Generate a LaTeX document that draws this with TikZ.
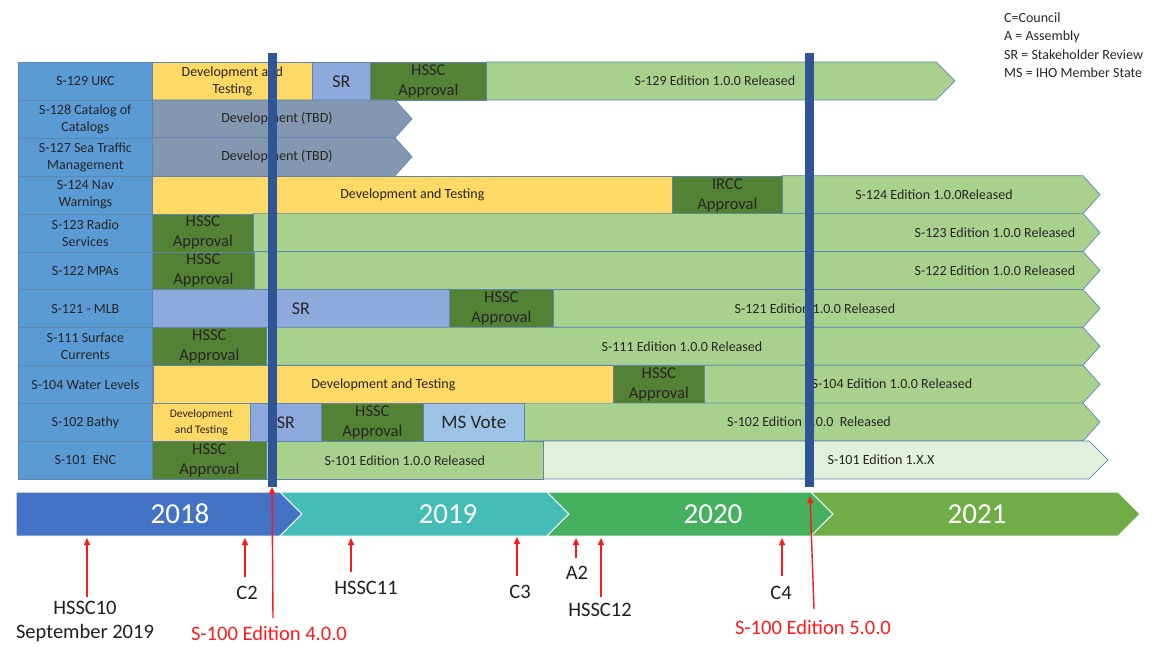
\documentclass[tikz,border=0pt]{standalone}
\usepackage{fontspec}
\setmainfont{Carlito}
\usetikzlibrary{arrows.meta}
\definecolor{lblue}{HTML}{5B9BD5}
\definecolor{devy}{HTML}{FFD966}
\definecolor{srb}{HTML}{8EA9DB}
\definecolor{dgreen}{HTML}{548235}
\definecolor{lgreen}{HTML}{A9D18E}
\definecolor{tbd}{HTML}{8497B0}
\definecolor{msv}{HTML}{9DC3E6}
\definecolor{vlgreen}{HTML}{E2EFDA}
\definecolor{cellline}{HTML}{5F84AE}
\definecolor{vline}{HTML}{2F5597}
\definecolor{yA}{HTML}{4472C4}
\definecolor{yB}{HTML}{44BDB7}
\definecolor{yC}{HTML}{45B15E}
\definecolor{yD}{HTML}{70AD47}
\definecolor{txt}{HTML}{262626}
\definecolor{redc}{HTML}{FF1A1A}
\newcommand\boxcell[6]{\node[cellbox,#5,minimum width={(#3)-(#2)},anchor=north west] (#1) at (#2,#4) {#6};}
\newcommand\chevcell[5]{\filldraw[fill=#5,draw=cellline,line width=0.7] (#1,#4) -- (#2,#4) -- (#3,#4+18.95) -- (#2,#4+37.9) -- (#1,#4+37.9) -- cycle;}
\newcommand\yearseg[4]{\filldraw[fill=#4,draw=white,line width=1] (#1,492) -- (#2,492) -- (#2+22,514) -- (#2,536) -- (#1,536) -- (#3,514) -- cycle;}
\begin{document}
\begin{tikzpicture}[x=1pt,y=-1pt,
  cellbox/.style={draw=cellline,line width=0.7,inner sep=0pt,align=center,minimum height=37.9,text=txt,font=\fontsize{14}{17}\selectfont},
  lbl/.style={fill=lblue},
  fA/.style={fill=dgreen,font=\fontsize{16.5}{20}\selectfont},
  fSR/.style={font=\fontsize{18}{20}\selectfont},
  fMS/.style={font=\fontsize{19}{20}\selectfont},
  fSm/.style={font=\fontsize{11.5}{16}\selectfont},
  bartext/.style={inner sep=0pt,text=txt,font=\fontsize{14}{17}\selectfont},
  yeartext/.style={text=white,font=\fontsize{29}{30}\selectfont},
  bottext/.style={text=black!88,align=center,font=\fontsize{20.5}{24}\selectfont},
  redtext/.style={text=redc,font=\fontsize{20.5}{24}\selectfont},
  legtext/.style={anchor=west,inner sep=0pt,text=txt,font=\fontsize{14}{18}\selectfont},
  redarr/.style={draw=redc,line width=1.4,-{Triangle[length=7pt,width=6pt]}},
  vbar/.style={draw=vline,line width=9}]
\useasboundingbox (0,0) rectangle (1154,646);
\fill[white] (0,0) rectangle (1154,646);

% legend
\node[legtext] (legC) at (1004,18) {C=Council};
\node[legtext] (legA) at (1004,37) {A = Assembly};
\node[legtext] (legSR) at (1004,55) {SR = Stakeholder Review};
\node[legtext] (legMS) at (1004,73) {MS = IHO Member State};

% row 1: S-129
\chevcell{486}{936}{955}{62}{lgreen}
\boxcell{l129}{18}{152}{62}{lbl}{S-129 UKC}
\boxcell{d129}{152}{312}{62}{fill=devy}{Development and\\Testing}
\boxcell{s129}{312}{370}{62}{fill=srb,fSR}{SR}
\boxcell{h129}{370}{486}{62}{fA}{HSSC\\Approval}
\node[bartext] (r129) at (715,81) {S-129 Edition 1.0.0 Released};

% row 2: S-128
\chevcell{152}{395}{412}{99.9}{tbd}
\boxcell{l128}{18}{152}{99.9}{lbl}{S-128 Catalog of\\Catalogs}
\node[bartext] (t128) at (277,118.85) {Development (TBD)};

% row 3: S-127
\chevcell{152}{395}{412}{137.8}{tbd}
\boxcell{l127}{18}{152}{137.8}{lbl}{S-127 Sea Traffic\\Management}
\node[bartext] (t127) at (277,156.75) {Development (TBD)};

% row 4: S-124
\chevcell{782}{1083}{1100}{175.7}{lgreen}
\boxcell{l124}{18}{152}{175.7}{lbl}{S-124 Nav\\Warnings}
\boxcell{d124}{152}{672}{175.7}{fill=devy}{Development and Testing}
\boxcell{h124}{672}{782}{175.7}{fA}{IRCC\\Approval}
\node[bartext] (r124) at (934,194.65) {S-124 Edition 1.0.0Released};

% row 5: S-123
\chevcell{253}{1083}{1100}{213.6}{lgreen}
\boxcell{l123}{18}{152}{213.6}{lbl}{S-123 Radio\\Services}
\boxcell{h123}{152}{253}{213.6}{fA}{HSSC\\Approval}
\node[bartext] (r123) at (995,232.55) {S-123 Edition 1.0.0 Released};

% row 6: S-122
\chevcell{254}{1083}{1100}{251.5}{lgreen}
\boxcell{l122}{18}{152}{251.5}{lbl}{S-122 MPAs}
\boxcell{h122}{152}{254}{251.5}{fA}{HSSC\\Approval}
\node[bartext] (r122) at (995,270.45) {S-122 Edition 1.0.0 Released};

% row 7: S-121
\chevcell{553}{1083}{1100}{289.4}{lgreen}
\boxcell{l121}{18}{152}{289.4}{lbl}{S-121 - MLB}
\boxcell{s121}{152}{449}{289.4}{fill=srb,fSR}{SR}
\boxcell{h121}{449}{553}{289.4}{fA}{HSSC\\Approval}
\node[bartext] (r121) at (815,308.35) {S-121 Edition 1.0.0 Released};

% row 8: S-111
\chevcell{266}{1083}{1100}{327.3}{lgreen}
\boxcell{l111}{18}{152}{327.3}{lbl}{S-111 Surface\\Currents}
\boxcell{h111}{152}{266}{327.3}{fA}{HSSC\\Approval}
\node[bartext] (r111) at (682,346.25) {S-111 Edition 1.0.0 Released};

% row 9: S-104
\chevcell{704}{1083}{1100}{365.2}{lgreen}
\boxcell{l104}{18}{152}{365.2}{lbl}{S-104 Water Levels}
\boxcell{d104}{153}{613}{365.2}{fill=devy}{Development and Testing}
\boxcell{h104}{613}{704}{365.2}{fA}{HSSC\\Approval}
\node[bartext] (r104) at (892,384.15) {S-104 Edition 1.0.0 Released};

% row 10: S-102
\chevcell{524}{1083}{1100}{403.1}{lgreen}
\boxcell{l102}{18}{152}{403.1}{lbl}{S-102 Bathy}
\boxcell{d102}{152}{250}{403.1}{fill=devy,fSm}{Development\\and Testing}
\boxcell{s102}{250}{321}{403.1}{fill=srb,fSR}{SR}
\boxcell{h102}{321}{423}{403.1}{fA}{HSSC\\Approval}
\boxcell{m102}{423}{524}{403.1}{fill=msv,fMS}{MS Vote}
\node[bartext] (r102) at (809,422.05) {S-102 Edition 1.0.0\ \ Released};

% row 11: S-101
\chevcell{543}{1089}{1108}{441.0}{vlgreen}
\boxcell{l101}{18}{152}{441.0}{lbl}{S-101\ \ ENC}
\boxcell{h101}{152}{266}{441.0}{fA}{HSSC\\Approval}
\boxcell{g101}{266}{543}{441.0}{fill=lgreen}{S-101 Edition 1.0.0 Released}
\node[bartext] (x101) at (881,459.95) {S-101 Edition 1.X.X};

% vertical edition lines
\coordinate (vAtop) at (272,53);
\coordinate (vAbot) at (272,487);
\coordinate (vBtop) at (809,53);
\coordinate (vBbot) at (809,487);
\draw[vbar] (vAtop) -- (vAbot);
\draw[vbar] (vBtop) -- (vBbot);

% timeline
\filldraw[fill=yA,draw=white,line width=1] (16,492) -- (280,492) -- (302,514) -- (280,536) -- (16,536) -- cycle;
\yearseg{280}{547}{302}{yB}
\yearseg{547}{811}{569}{yC}
\yearseg{811}{1118}{833}{yD}
\node[yeartext] (y2018) at (180,514) {2018};
\node[yeartext] (y2019) at (448,514) {2019};
\node[yeartext] (y2020) at (713,514) {2020};
\node[yeartext] (y2021) at (977,514) {2021};

% milestones
\node[bottext] (mHSSC10) at (85,621) {HSSC10\\September 2019};
\coordinate (aHSSC10t) at (87,597); \coordinate (aHSSC10h) at (87,538);
\draw[redarr] (aHSSC10t) -- (aHSSC10h);

\node[bottext] (mC2) at (247,593) {C2};
\coordinate (aC2t) at (245,577); \coordinate (aC2h) at (245,538);
\draw[redarr] (aC2t) -- (aC2h);

\node[redtext] (mS4) at (269,633) {S-100 Edition 4.0.0};
\coordinate (aS4t) at (273,618); \coordinate (aS4h) at (272,487);
\draw[redarr] (aS4t) -- (aS4h);

\node[bottext] (mHSSC11) at (366,588) {HSSC11};
\coordinate (aH11t) at (351,572); \coordinate (aH11h) at (351,538);
\draw[redarr] (aH11t) -- (aH11h);

\node[bottext] (mC3) at (520,592) {C3};
\coordinate (aC3t) at (517,576); \coordinate (aC3h) at (517,537);
\draw[redarr] (aC3t) -- (aC3h);

\node[bottext] (mA2) at (577,573) {A2};
\coordinate (aA2t) at (576,558); \coordinate (aA2h) at (576,538);
\draw[redarr] (aA2t) -- (aA2h);

\node[bottext] (mHSSC12) at (600,610) {HSSC12};
\coordinate (aH12t) at (601,597); \coordinate (aH12h) at (601,538);
\draw[redarr] (aH12t) -- (aH12h);

\node[bottext] (mC4) at (781,593) {C4};
\coordinate (aC4t) at (782,576); \coordinate (aC4h) at (782,538);
\draw[redarr] (aC4t) -- (aC4h);

\node[redtext] (mS5) at (813,627) {S-100 Edition 5.0.0};
\coordinate (aS5t) at (814,609); \coordinate (aS5h) at (810,496);
\draw[redarr] (aS5t) -- (aS5h);
\end{tikzpicture}
\end{document}
